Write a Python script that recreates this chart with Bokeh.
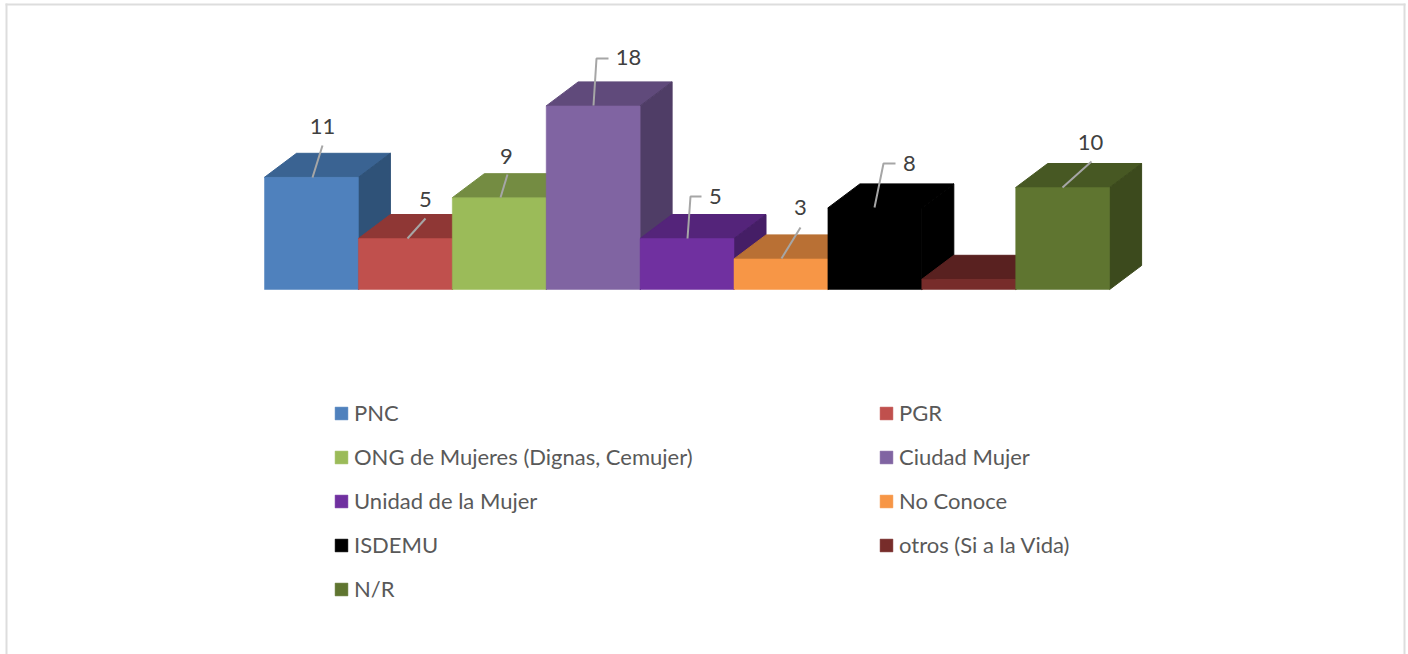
from bokeh.plotting import figure
from bokeh.embed import file_html
from bokeh.resources import INLINE
from bokeh.models import Range1d, Legend, LegendItem, BoxAnnotation
from bokeh.core.properties import value

categories = ["PNC", "PGR", "ONG de Mujeres (Dignas, Cemujer)", "Ciudad Mujer",
              "Unidad de la Mujer", "No Conoce", "ISDEMU", "otros (Si a la Vida)", "N/R"]
values = [11, 5, 9, 18, 5, 3, 8, 1, 10]
data_labels = ["11", "5", "9", "18", "5", "3", "8", "", "10"]

front_colors = ["#4F81BD", "#C0504D", "#9BBB59", "#8064A2", "#7030A0", "#F79646", "#000000", "#772C2A", "#5F7530"]
top_colors = ["#3A6392", "#8F3735", "#748C42", "#604A7B", "#54247A", "#B97034", "#000000", "#592120", "#475823"]
side_colors = ["#2F5278", "#7A2F2D", "#62773A", "#4F3D66", "#451E66", "#9E602C", "#000000", "#4A1C1B", "#3C4A1D"]

# Layout constants (pixels)
W, H = 1408, 654
X0, Y0 = 264, 289        # left end and baseline of the bars
BAR_PX, UNIT_PX = 93.9, 10.2
DX_PX, DY_PX = 32, 24    # depth of the 3-D projection

leader_paths = [
    [(312, 177), (322, 145)],
    [(407, 238), (425, 218)],
    [(500, 197), (507, 174)],
    [(593, 105), (596, 58), (608, 58)],
    [(687, 238), (690, 196), (701, 196)],
    [(781, 258), (800, 227)],
    [(874, 207), (883, 163), (895, 163)],
    None,
    [(1062, 187), (1091, 161)],
]
label_pos = [(322, 126), (425, 199), (506, 156), (628, 57), (715, 196),
             (800, 207), (909, 163), None, (1090, 142)]

def dx(px):
    return (px - X0) / BAR_PX

def dy(py):
    return (Y0 - py) / UNIT_PX

DX, DY = DX_PX / BAR_PX, DY_PX / UNIT_PX

p = figure(width=W, height=H, output_backend="svg", toolbar_location=None,
           x_range=Range1d(dx(0), dx(W)), y_range=Range1d(dy(H), dy(0)),
           min_border=0)
p.axis.visible = False
p.grid.visible = False
p.outline_line_color = None
p.background_fill_color = "white"
p.border_fill_color = "white"

# Frame of the picture (its lower edge lies outside the view)
FRAME = "#DDDDDD"
def frame_box(l, r, t, b):
    p.add_layout(BoxAnnotation(left=l, right=r, top=H - t, bottom=H - b,
                               left_units="screen", right_units="screen",
                               top_units="screen", bottom_units="screen",
                               fill_color=FRAME, fill_alpha=1, line_color=None))
frame_box(5, 7, 3, H)
frame_box(5, 1405, 3, 5)
frame_box(1403, 1405, 3, H)

fronts = []
for i, v in enumerate(values):
    l, r = i, i + 1
    p.patch([l, l + DX, r + DX, r], [v, v + DY, v + DY, v], fill_color=top_colors[i], line_color=top_colors[i], line_width=1)
    p.patch([r, r + DX, r + DX, r], [0, DY, v + DY, v], fill_color=side_colors[i], line_color=side_colors[i], line_width=1)
    fronts.append(p.quad(left=[l], right=[r], bottom=[0], top=[v], fill_color=front_colors[i],
                         line_color=front_colors[i], line_width=0.5))

for path, pos, lab in zip(leader_paths, label_pos, data_labels):
    if path is None:
        continue
    p.line([dx(a) for a, _ in path], [dy(b) for _, b in path], line_color="#A6A6A6", line_width=2)
    p.text([dx(pos[0])], [dy(pos[1])], text=[lab], text_align="center", text_baseline="middle",
           text_font=value("Lato"), text_font_size="22px", text_color="#404040")

def make_legend(idx, x_px):
    n = len(idx)
    leg = Legend(items=[LegendItem(label=value(categories[i]), renderers=[fronts[i]]) for i in idx],
                 location=(x_px, H - 399 - (44 * n - 17)), orientation="vertical",
                 glyph_width=16, glyph_height=16, label_standoff=5, spacing=17,
                 label_text_font="Lato", label_text_font_size="22px", label_text_color="#595959",
                 label_text_baseline="middle",
                 padding=0, margin=0, border_line_color=None, background_fill_alpha=0,
                 click_policy="none")
    p.add_layout(leg)

make_legend([0, 2, 4, 6, 8], 333)
make_legend([1, 3, 5, 7], 878)

open("out.html", "w").write(file_html(p, INLINE))
